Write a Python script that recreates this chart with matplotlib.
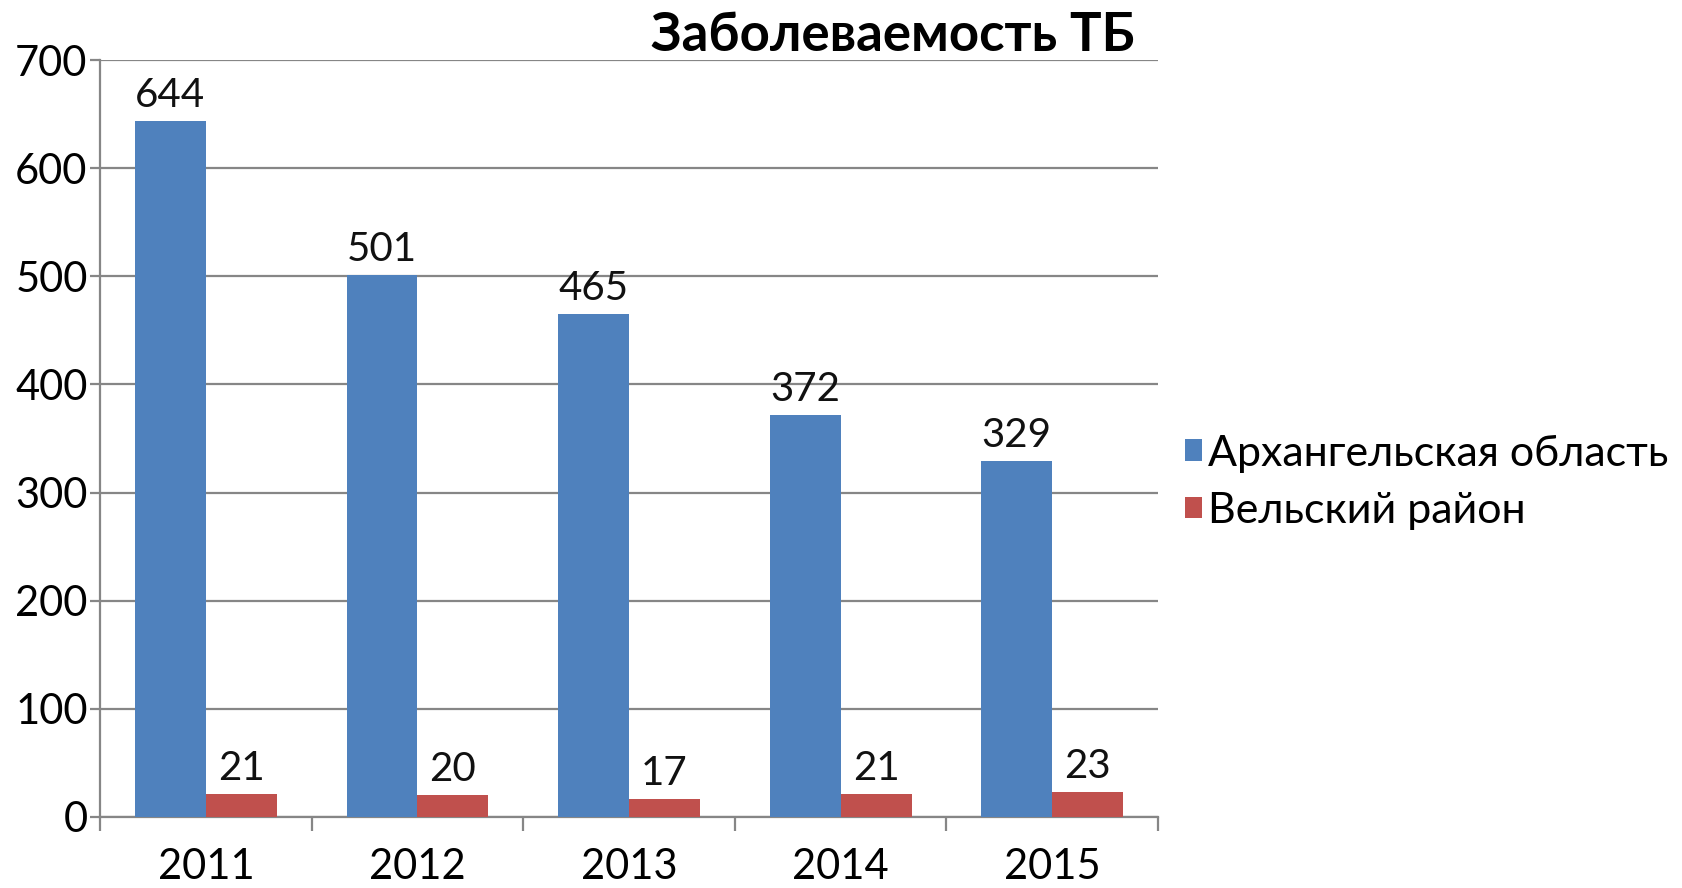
import matplotlib.pyplot as plt
import numpy as np

years = ["2011", "2012", "2013", "2014", "2015"]
arkhangelsk = [644, 501, 465, 372, 329]
velsk = [21, 20, 17, 21, 23]
series_names = ["Архангельская область", "Вельский район"]
title = "Заболеваемость ТБ"

plt.rcParams['font.family'] = ['Lato', 'DejaVu Sans']

blue = "#4F81BD"
red = "#C0504D"
grey = "#868686"

fig = plt.figure(figsize=(16.82, 8.88), dpi=100)
ax = fig.add_axes([0.0595, 0.08, 0.629, 0.8524])

x = np.arange(len(years))
w = 0.335
b1 = ax.bar(x - w / 2, arkhangelsk, w, color=blue, label=series_names[0], zorder=3)
b2 = ax.bar(x + w / 2, velsk, w, color=red, label=series_names[1], zorder=3)

# value labels over each bar
for bars, vals in ((b1, arkhangelsk), (b2, velsk)):
    for rect, v in zip(bars, vals):
        ax.annotate(str(v), (rect.get_x() + rect.get_width() / 2, v),
                    xytext=(0, 5), textcoords="offset points",
                    ha="center", va="bottom", fontsize=29, color="#111111")

ax.set_xlim(-0.5, len(years) - 0.5)
ax.set_ylim(0, 700)
ax.set_yticks(range(0, 701, 100))
ax.yaxis.grid(True, color=grey, linewidth=1.6, zorder=0)

ax.set_xticks(x)
ax.set_xticklabels(years)
ax.set_xticks(np.arange(-0.5, len(years), 1.0), minor=True)
ax.tick_params(axis="x", which="major", length=0, pad=22, labelsize=30)
ax.tick_params(axis="x", which="minor", length=10, width=1.6, color=grey, direction="out")
ax.tick_params(axis="y", length=7, width=1.6, color=grey, pad=2, labelsize=30)

for s in ("top", "right"):
    ax.spines[s].set_visible(False)
for s in ("left", "bottom"):
    ax.spines[s].set_color(grey)
    ax.spines[s].set_linewidth(1.6)

fig.text(0.675, 0.96, title, ha="right", va="center", fontsize=38, fontweight="bold")

leg = fig.legend(loc="center left", bbox_to_anchor=(0.694, 0.457), frameon=False,
                 fontsize=31, handlelength=0.4, handleheight=0.4, handletextpad=0.15,
                 labelspacing=0.45, borderaxespad=0)

fig.savefig("out.png", dpi=100)
